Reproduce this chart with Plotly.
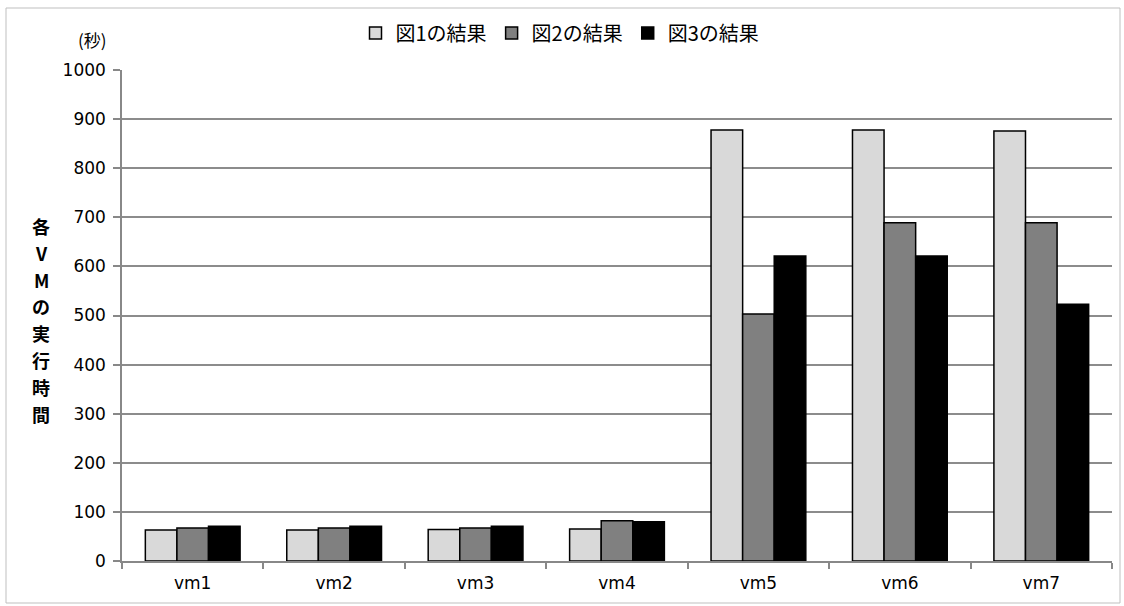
import plotly.graph_objects as go

# Execution time of each VM (seconds) for the three result sets
vms = ["vm1", "vm2", "vm3", "vm4", "vm5", "vm6", "vm7"]
series_names = ["図1の結果", "図2の結果", "図3の結果"]
fig1_times = [63, 63, 64, 65, 878, 878, 876]
fig2_times = [67, 67, 67, 82, 503, 689, 689]
fig3_times = [71, 71, 71, 80, 621, 621, 523]
y_ticks = [0, 100, 200, 300, 400, 500, 600, 700, 800, 900, 1000]
y_title = "各VMの実行時間"

colors = ["#d9d9d9", "#808080", "#000000"]
font_jp = "Noto Sans CJK JP"
font_num = "DejaVu Sans"

W, H = 1124, 606
L, R, T, B = 122, 12, 70, 45
pw = W - L - R
ph = H - T - B


def px_x(x):
    return (x - L) / pw


def px_y(y):
    return 1 - (y - T) / ph


fig = go.Figure()
for name, vals, col in zip(series_names, [fig1_times, fig2_times, fig3_times], colors):
    fig.add_trace(go.Bar(
        x=vms, y=vals, name=name,
        marker=dict(color=col, line=dict(color="#000000", width=1.5)),
    ))

fig.update_layout(
    width=W, height=H,
    margin=dict(l=L, r=R, t=T, b=B),
    paper_bgcolor="white", plot_bgcolor="white",
    barmode="group", bargap=0.33, bargroupgap=0,
    showlegend=True,
    legend=dict(
        orientation="h", x=px_x(560), xanchor="center",
        y=px_y(33), yanchor="middle",
        font=dict(family=font_jp, size=20, color="#000"),
        itemwidth=30, tracegroupgap=0,
        bgcolor="rgba(0,0,0,0)",
    ),
    xaxis=dict(
        showline=True, linecolor="#888888", linewidth=1.5,
        ticks="outside", ticklen=6, tickcolor="#888888", tickwidth=1.5,
        tickson="boundaries", ticklabelstandoff=6,
        tickfont=dict(family=font_num, size=17, color="#000"),
        showgrid=False,
    ),
    yaxis=dict(
        range=[0, 1000], tickvals=y_ticks,
        showline=True, linecolor="#888888", linewidth=1.5,
        ticks="outside", ticklen=7, tickcolor="#888888", tickwidth=1.5,
        tickfont=dict(family=font_num, size=17, color="#000"),
        ticklabelstandoff=4,
        showgrid=True, gridcolor="#8c8c8c", gridwidth=1.5,
        zeroline=False,
    ),
)

# vertical y-axis title, one character per row
for i, ch in enumerate(y_title):
    fig.add_annotation(
        text=ch, xref="paper", yref="paper",
        x=px_x(41), y=px_y(226 + 26.8 * i),
        xanchor="center", yanchor="middle", showarrow=False,
        font=dict(family=font_jp, size=18, color="#000", weight="bold"),
    )

fig.add_annotation(
    text="(秒)", xref="paper", yref="paper",
    x=px_x(92), y=px_y(40),
    xanchor="center", yanchor="middle", showarrow=False,
    font=dict(family=font_jp, size=17, color="#000"),
)

# light frame around the whole chart
fig.add_shape(
    type="rect", xref="paper", yref="paper",
    x0=px_x(6), x1=px_x(1120), y0=px_y(603), y1=px_y(8),
    line=dict(color="#bfbfbf", width=1), layer="below",
)

fig.write_html("out.html")
